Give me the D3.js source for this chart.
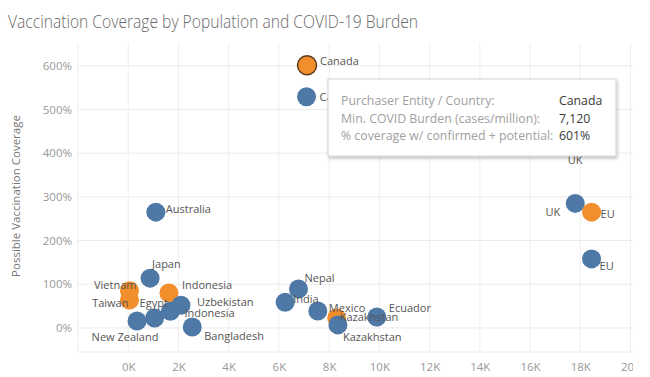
<!DOCTYPE html>
<html>
<head>
<meta charset="utf-8">
<script src="https://cdn.jsdelivr.net/npm/d3@7"></script>
<style>
  body { margin: 0; background: #fff; }
  svg { font-family: "Open Sans", sans-serif; }
</style>
</head>
<body>
<div id="chart"></div>
<script>
// data: burden in K cases / million, coverage in %
const countries = ["Canada", "Canada", "Australia", "Japan", "Vietnam", "Taiwan", "Indonesia",
  "Egypt", "Indonesia", "Uzbekistan", "New Zealand", "Bangladesh", "India", "Nepal", "Mexico",
  "Kazakhstan", "Kazakhstan", "Ecuador", "UK", "UK", "EU", "EU"];
const series = ["potential", "confirmed", "confirmed", "confirmed", "potential", "potential", "potential",
  "confirmed", "confirmed", "confirmed", "confirmed", "confirmed", "confirmed", "confirmed", "confirmed",
  "potential", "confirmed", "confirmed", "potential", "confirmed", "potential", "confirmed"];
const burden = [7.12, 7.1, 1.1, 0.87, 0.05, 0.05, 1.62,
  1.05, 1.68, 2.1, 0.35, 2.55, 6.25, 6.78, 7.55,
  8.3, 8.35, 9.9, 17.8, 17.8, 18.45, 18.45];
const coverage = [601, 529, 265, 114, 85, 64, 80,
  23, 38, 52, 16, 2, 59, 89, 39,
  23, 7, 25, 425, 285, 265, 158];
const xTicks = [0, 2, 4, 6, 8, 10, 12, 14, 16, 18, 20];
const yTicks = [0, 100, 200, 300, 400, 500, 600];
const xGrid = [-2, 0, 2, 4, 6, 8, 10, 12, 14, 16, 18, 20];

// label placement for each mark [dx, dy, anchor]
const labelPos = [[13, -4, "start"], [13, 0, "start"], [10, -3, "start"], [2, -14, "start"],
  [7, -6, "end"], [-1, 3, "end"], [13, -8, "start"],
  [-15, -15, "start"], [14, 2, "start"], [16, -3, "start"], [-12, 16, "middle"], [12, 9, "start"],
  [8, -3, "start"], [6, -11, "start"], [11, -3, "start"],
  [3, -1, "start"], [5, 12, "start"], [12, -9, "start"], [0, 18, "middle"], [-15, 9, "end"],
  [9, 2, "start"], [8, 7, "start"]];

const colors = {potential: "#f28e2b", confirmed: "#4e79a7"};

const W = 650, H = 377;
const plot = {left: 78, right: 633, top: 43, bottom: 352};

const svg = d3.select("#chart").append("svg")
  .attr("width", W).attr("height", H);

const defs = svg.append("defs");
defs.append("clipPath").attr("id", "xclip")
  .append("rect").attr("x", 0).attr("y", 0).attr("width", plot.right).attr("height", H);
defs.append("filter").attr("id", "shadow")
  .attr("x", "-10%").attr("y", "-10%").attr("width", "125%").attr("height", "140%")
  .append("feDropShadow")
  .attr("dx", 1).attr("dy", 2).attr("stdDeviation", 1.5)
  .attr("flood-color", "#000").attr("flood-opacity", 0.25);

const x = d3.scaleLinear().domain([-2, 20.1]).range([plot.left, plot.right]);
const y = d3.scaleLinear().domain([-55, 652]).range([plot.bottom, plot.top]);

// title
const title = svg.append("text")
  .attr("x", 8).attr("y", 28)
  .attr("fill", "#6a6a6a").style("font-size", "18px").style("font-weight", 300)
  .text("Vaccination Coverage by Population and COVID-19 Burden");
title.attr("textLength", 410).attr("lengthAdjust", "spacingAndGlyphs");

// grid
svg.append("g").selectAll("line").data(xGrid).join("line")
  .attr("x1", d => x(d)).attr("x2", d => x(d))
  .attr("y1", plot.top).attr("y2", plot.bottom)
  .attr("stroke", "#efefef");
svg.append("g").selectAll("line").data(yTicks).join("line")
  .attr("x1", plot.left).attr("x2", plot.right)
  .attr("y1", d => y(d)).attr("y2", d => y(d))
  .attr("stroke", "#ebebeb");
svg.append("line")
  .attr("x1", plot.left).attr("x2", plot.right)
  .attr("y1", plot.bottom).attr("y2", plot.bottom)
  .attr("stroke", "#ededed");

// axes
const yAxis = svg.append("g")
  .attr("transform", `translate(${plot.left - 3},0)`)
  .call(d3.axisLeft(y).tickValues(yTicks).tickSize(0).tickFormat(d => d + "%"));
const xAxis = svg.append("g")
  .attr("clip-path", "url(#xclip)")
  .attr("transform", `translate(0,${plot.bottom + 8})`)
  .call(d3.axisBottom(x).tickValues(xTicks).tickSize(0).tickFormat(d => d + "K"));
[xAxis, yAxis].forEach(a => {
  a.select(".domain").remove();
  a.selectAll("text").attr("fill", "#999").style("font-size", "11.5px")
    .style("font-family", "Open Sans, sans-serif");
});

svg.append("text")
  .attr("transform", "translate(20,196) rotate(-90)")
  .attr("text-anchor", "middle")
  .attr("fill", "#777").style("font-size", "11.5px")
  .text("Possible Vaccination Coverage");

// marks
const data = countries.map((c, i) => ({
  name: c, series: series[i], burden: burden[i], coverage: coverage[i], pos: labelPos[i]
}));

svg.append("g").selectAll("circle").data(data).join("circle")
  .attr("cx", d => x(d.burden))
  .attr("cy", d => y(d.coverage))
  .attr("r", 9.5)
  .attr("fill", d => colors[d.series])
  .attr("stroke", (d, i) => i === 0 ? "#5a3a1a" : "none")
  .attr("stroke-width", 1.5);

svg.append("g").selectAll("text").data(data).join("text")
  .attr("x", d => x(d.burden) + d.pos[0])
  .attr("y", d => y(d.coverage) + d.pos[1])
  .attr("dy", "0.35em")
  .attr("text-anchor", d => d.pos[2])
  .attr("fill", "#555").style("font-size", "11px")
  .text(d => d.name);

// tooltip for the selected mark
const sel = data[0];
const tip = svg.append("g").attr("transform", "translate(328,79)");
tip.append("rect")
  .attr("width", 288).attr("height", 77)
  .attr("fill", "#fff").attr("stroke", "#d4d4d4")
  .attr("filter", "url(#shadow)");
const tipRows = [
  ["Purchaser Entity / Country:", sel.name],
  ["Min. COVID Burden (cases/million):", d3.format(",")(Math.round(sel.burden * 1000))],
  ["% coverage w/ confirmed + potential:", sel.coverage + "%"]
];
tipRows.forEach((r, i) => {
  tip.append("text").attr("x", 13).attr("y", 22 + i * 17.5).attr("dy", "0.35em")
    .attr("fill", "#a0a0a0").style("font-size", "12.3px").text(r[0]);
  tip.append("text").attr("x", 231).attr("y", 22 + i * 17.5).attr("dy", "0.35em")
    .attr("fill", "#3a3a3a").style("font-size", "12.3px").style("font-weight", 500).text(r[1]);
});
</script>
</body>
</html>
